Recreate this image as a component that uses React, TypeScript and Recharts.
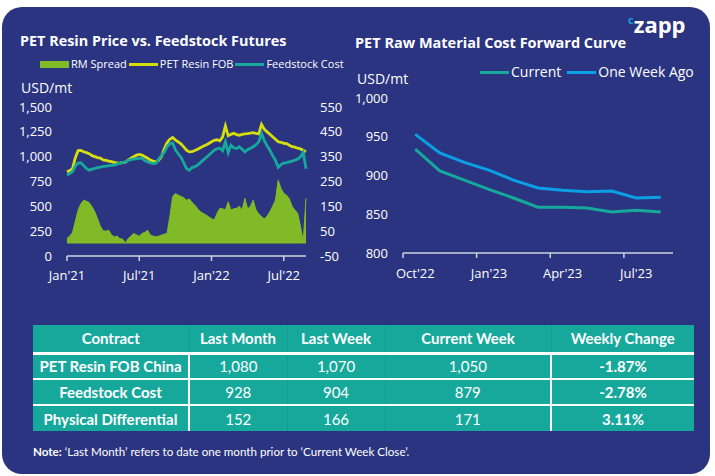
import React from "react";
import { Area, ComposedChart, Line, LineChart, XAxis, YAxis } from "recharts";

// weekly readings, first week of Jan'21 to late Aug'22
const petResinFob = [
  847, 860, 880, 990, 1060, 1062, 1050, 1040, 1030, 1010, 1000, 990, 985, 968, 962, 955, 950, 942, 938, 935,
  940, 945, 965, 985, 1000, 1015, 1022, 1015, 1000, 985, 965, 955, 948, 965, 1000, 1080, 1140, 1175, 1193, 1170,
  1150, 1130, 1098, 1065, 1048, 1050, 1062, 1075, 1090, 1105, 1118, 1133, 1150, 1165, 1170, 1160, 1200, 1310, 1210, 1225,
  1235, 1222, 1216, 1225, 1230, 1233, 1238, 1242, 1235, 1230, 1325, 1275, 1250, 1225, 1200, 1175, 1150, 1145, 1135, 1132,
  1115, 1100, 1095, 1085, 1078, 1065, 1050,
];
const feedstockCost = [
  814, 830, 850, 905, 935, 938, 910, 880, 864, 875, 881, 890, 895, 903, 905, 910, 912, 915, 925, 935,
  940, 948, 962, 970, 975, 980, 985, 982, 960, 948, 938, 931, 935, 975, 1010, 1045, 1100, 1130, 1139, 1070,
  1030, 995, 940, 880, 864, 890, 900, 915, 940, 965, 990, 1015, 1040, 1065, 1080, 1085, 1060, 1150, 1040, 1115,
  1090, 1082, 1099, 1075, 1048, 1070, 1085, 1100, 1120, 1149, 1235, 1160, 1110, 1065, 1010, 965, 891, 920, 935, 940,
  948, 955, 965, 975, 998, 1045, 879,
];
const rmSpread = [
  21, 30, 45, 90, 135, 160, 175, 170, 165, 148, 128, 100, 70, 52, 50, 54, 35, 27, 30, 20,
  18, 2, 20, 30, 41, 35, 30, 41, 45, 54, 34, 30, 28, 30, 34, 38, 41, 108, 188, 202,
  195, 190, 185, 175, 180, 165, 155, 140, 128, 122, 115, 108, 100, 95, 122, 142, 140, 135, 168, 135,
  140, 142, 150, 135, 182, 140, 150, 175, 135, 120, 108, 100, 110, 128, 150, 175, 255, 222, 202, 195,
  180, 150, 135, 122, 70, 8, 182,
];
const leftTickWeeks = [0, 26, 52, 78];
const leftTickLabels = ["Jan'21", "Jul'21", "Jan'22", "Jul'22"];
const usdTicks = [0, 250, 500, 750, 1000, 1250, 1500];
const spreadTicks = [-50, 50, 150, 250, 350, 450, 550];

const curveMonths = ["Oct'22", "Nov'22", "Dec'22", "Jan'23", "Feb'23", "Mar'23", "Apr'23", "May'23", "Jun'23", "Jul'23", "Aug'23"];
const curveCurrent = [934, 906, 894, 882, 871, 859, 859, 858, 853, 855, 853];
const curveWeekAgo = [953, 929, 917, 907, 894, 884, 881, 879, 880, 871, 872];
const curveTicks = [800, 850, 900, 950, 1000];

const tableHeader = ["Contract", "Last Month", "Last Week", "Current Week", "Weekly Change"];
const tableContracts = ["PET Resin FOB China", "Feedstock Cost", "Physical Differential"];
const tableLastMonth = ["1,080", "928", "152"];
const tableLastWeek = ["1,070", "904", "166"];
const tableCurrentWeek = ["1,050", "879", "171"];
const tableWeeklyChange = ["-1.87%", "-2.78%", "3.11%"];

const NAVY = "#2a3480";
const GREEN = "#80bb27";
const YELLOW = "#d6df0c";
const TEAL = "#17a89c";
const BLUE = "#0aa0e6";
const AXIS = "#cfd2e0";
const FONT = "'Open Sans', sans-serif";

const leftData = petResinFob.map((v, i) => ({
  week: i,
  fob: v,
  feed: feedstockCost[i],
  spread: rmSpread[i],
}));

const curveData = curveMonths.map((m, i) => ({
  month: m,
  current: curveCurrent[i],
  weekAgo: curveWeekAgo[i],
}));

const fmt = (v: number) => v.toLocaleString("en-US");

const CurveTick = (props: any) => {
  const { x, y, payload } = props;
  const half = payload && payload.offset ? payload.offset : 12.25;
  return (
    <g>
      <line x1={x - half} x2={x - half} y1={y} y2={y + 5} stroke={AXIS} strokeWidth={1.5} />
      <text x={x} y={y + 25} textAnchor="middle" fill="#fff" fontSize={13} fontFamily={FONT}>
        {payload.value}
      </text>
    </g>
  );
};

const abs = (left: number, top: number): React.CSSProperties => ({
  position: "absolute",
  left,
  top,
  whiteSpace: "nowrap",
});

function LegendSwatch({ color, bar }: { color: string; bar?: boolean }) {
  return (
    <span
      style={{
        display: "inline-block",
        width: 29,
        height: bar ? 7 : 3,
        background: color,
        marginRight: 2,
      }}
    />
  );
}

export default function App() {
  const cell: React.CSSProperties = {
    padding: 0,
    textAlign: "center",
    color: "#fff",
    fontSize: 15,
    fontFamily: "Lato, sans-serif",
  };
  const colW = [156, 98, 98, 166, 143];

  return (
    <div style={{ position: "absolute", left: 0, top: 0, width: 715, height: 476, background: "#fff", fontFamily: FONT }}>
      <div
        style={{
          position: "absolute",
          left: 2,
          top: 7,
          width: 708,
          height: 467,
          background: NAVY,
          borderRadius: 20,
        }}
      />

      {/* logo */}
      <div style={{ ...abs(628, 9), color: "#fff", fontWeight: 700, fontSize: 22, lineHeight: "30px" }}>
        <span style={{ color: BLUE, fontSize: 11, verticalAlign: "top", lineHeight: "22px" }}>c</span>zapp
      </div>

      {/* left panel */}
      <div style={{ ...abs(20, 31), color: "#fff", fontWeight: 700, fontSize: 14.4, lineHeight: "20px" }}>
        PET Resin Price vs. Feedstock Futures
      </div>
      <div style={{ ...abs(40, 56), display: "flex", alignItems: "center", color: "#fff", fontSize: 11, lineHeight: "16px" }}>
        <LegendSwatch color={GREEN} bar />
        <span style={{ marginRight: 2 }}>RM Spread</span>
        <LegendSwatch color={YELLOW} />
        <span style={{ marginRight: 2 }}>PET Resin FOB</span>
        <LegendSwatch color={TEAL} />
        <span>Feedstock Cost</span>
      </div>
      <div style={{ ...abs(21, 78), color: "#fff", fontSize: 14, lineHeight: "20px" }}>USD/mt</div>

      <div style={abs(0, 95)}>
        <ComposedChart width={360} height={200} data={leftData} margin={{ top: 12, right: 0, left: 0, bottom: 0 }}>
          <XAxis
            dataKey="week"
            type="number"
            domain={[0, 86]}
            ticks={leftTickWeeks}
            tickFormatter={(w: number) => leftTickLabels[leftTickWeeks.indexOf(w)]}
            height={39}
            axisLine={{ stroke: AXIS, strokeWidth: 1.5 }}
            tickLine={{ stroke: AXIS, strokeWidth: 1.5 }}
            tickSize={5}
            tickMargin={10}
            tick={{ fill: "#fff", fontSize: 13, fontFamily: FONT }}
          />
          <YAxis
            yAxisId="left"
            domain={[0, 1500]}
            ticks={usdTicks}
            width={67}
            axisLine={false}
            tickLine={false}
            tickSize={0}
            tickMargin={15}
            tickFormatter={fmt}
            tick={{ fill: "#fff", fontSize: 13, fontFamily: FONT }}
          />
          <YAxis
            yAxisId="right"
            orientation="right"
            domain={[-50, 550]}
            ticks={spreadTicks}
            width={54}
            axisLine={false}
            tickLine={false}
            tickSize={0}
            tickMargin={14}
            tick={{ fill: "#fff", fontSize: 13, fontFamily: FONT }}
          />
          <Area
            yAxisId="right"
            dataKey="spread"
            type="linear"
            baseValue={0}
            fill={GREEN}
            fillOpacity={1}
            stroke={GREEN}
            strokeWidth={1}
            isAnimationActive={false}
          />
          <Line yAxisId="left" dataKey="fob" type="linear" stroke={YELLOW} strokeWidth={2.8} dot={false} isAnimationActive={false} />
          <Line yAxisId="left" dataKey="feed" type="linear" stroke={TEAL} strokeWidth={2.8} dot={false} isAnimationActive={false} />
        </ComposedChart>
      </div>

      {/* right panel */}
      <div style={{ ...abs(355, 33), color: "#fff", fontWeight: 700, fontSize: 14.5, lineHeight: "20px" }}>
        PET Raw Material Cost Forward Curve
      </div>
      <div style={{ ...abs(480, 63), display: "flex", alignItems: "center", color: "#fff", fontSize: 14, lineHeight: "18px" }}>
        <LegendSwatch color={TEAL} />
        <span style={{ marginRight: 6 }}>Current</span>
        <LegendSwatch color={BLUE} />
        <span>One Week Ago</span>
      </div>
      <div style={{ ...abs(357, 69), color: "#fff", fontSize: 14, lineHeight: "20px" }}>USD/mt</div>

      <div style={abs(340, 88)}>
        <LineChart width={375} height={200} data={curveData} margin={{ top: 10, right: 42, left: 0, bottom: 0 }}>
          <XAxis
            dataKey="month"
            scale="band"
            interval={2}
            height={35}
            axisLine={{ stroke: AXIS, strokeWidth: 1.5 }}
            tickLine={false}
            tickSize={0}
            tickMargin={0}
            tick={<CurveTick />}
          />
          <YAxis
            domain={[800, 1000]}
            ticks={curveTicks}
            width={63}
            axisLine={false}
            tickLine={false}
            tickSize={0}
            tickMargin={15}
            tickFormatter={fmt}
            tick={{ fill: "#fff", fontSize: 13, fontFamily: FONT }}
          />
          <Line dataKey="current" type="linear" stroke={TEAL} strokeWidth={3} dot={false} isAnimationActive={false} />
          <Line dataKey="weekAgo" type="linear" stroke={BLUE} strokeWidth={3} dot={false} isAnimationActive={false} />
        </LineChart>
      </div>

      {/* table */}
      <table
        style={{
          position: "absolute",
          left: 33,
          top: 325,
          width: 661,
          borderCollapse: "collapse",
          background: TEAL,
          tableLayout: "fixed",
        }}
      >
        <colgroup>
          {colW.map((w, i) => (
            <col key={i} style={{ width: w }} />
          ))}
        </colgroup>
        <thead>
          <tr style={{ height: 28 }}>
            {tableHeader.map((h, i) => (
              <th
                key={h}
                style={{
                  ...cell,
                  fontWeight: 700,
                  borderBottom: "3px solid #fff",
                  borderRight: i < 4 ? "1px solid rgba(0,0,0,0.08)" : "none",
                }}
              >
                {h}
              </th>
            ))}
          </tr>
        </thead>
        <tbody>
          {tableContracts.map((c, r) => {
            const vals = [c, tableLastMonth[r], tableLastWeek[r], tableCurrentWeek[r], tableWeeklyChange[r]];
            return (
              <tr key={c} style={{ height: 26 }}>
                {vals.map((v, i) => (
                  <td
                    key={i}
                    style={{
                      ...cell,
                      fontWeight: i === 0 || i === 4 ? 700 : 400,
                      borderBottom: r < 2 ? "2px solid #fff" : "none",
                      borderRight:
                        i === 0 || i === 3 ? "2px solid #fff" : i < 4 ? "1px solid rgba(0,0,0,0.08)" : "none",
                    }}
                  >
                    {v}
                  </td>
                ))}
              </tr>
            );
          })}
        </tbody>
      </table>

      <div style={{ ...abs(33, 444), color: "#fff", fontSize: 11.6, lineHeight: "16px", fontFamily: "Lato, sans-serif" }}>
        <b>Note:</b> ‘Last Month’ refers to date one month prior to ‘Current Week Close’.
      </div>
    </div>
  );
}
